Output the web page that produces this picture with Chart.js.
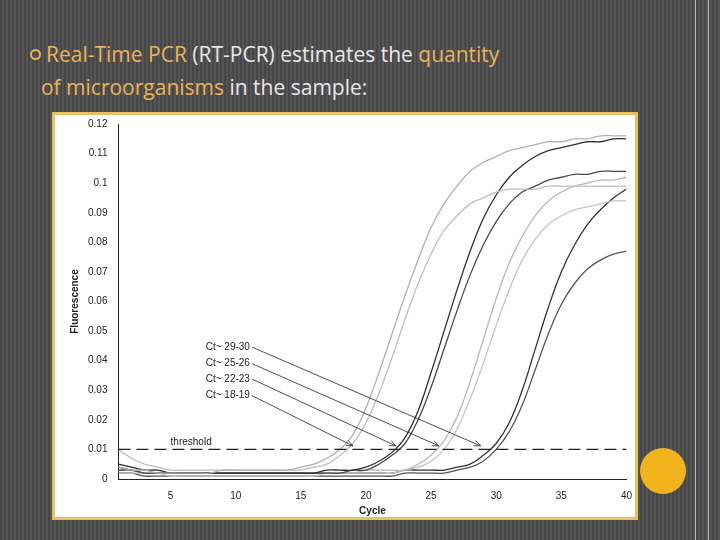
<!DOCTYPE html>
<html>
<head>
<meta charset="utf-8">
<script src="https://cdn.jsdelivr.net/npm/chart.js@4"></script>
<style>
  body { margin:0; width:720px; height:540px; overflow:hidden;
    background: repeating-linear-gradient(90deg, #474747 0px, #474747 2px, #545454 2px, #545454 4px);
    font-family: "Open Sans", sans-serif; position:relative; }
  .title { position:absolute; left:30px; top:38px; font-size:21px; line-height:33px; color:#e8e8e8; }
  .title .o { color:#e9b45a; }
  .bullet { display:inline-block; width:11px; height:11px; border:2px solid #e9b45a; border-radius:50%; box-sizing:border-box; margin-right:5px; vertical-align:2px; }
  .frame { position:absolute; left:52px; top:112px; width:580px; height:402px; background:#fff; border:3px solid #e8c060; }
  .dot { position:absolute; left:640px; top:448px; width:46px; height:46px; border-radius:50%; background:#f2b41c; }
  .vl { position:absolute; top:0; height:540px; width:1px; background:#bbb; }
</style>
</head>
<body>
<div class="vl" style="left:695px"></div>
<div class="vl" style="left:708px"></div>
<div class="title"><span class="bullet"></span><span class="o">Real-Time PCR</span> (RT-PCR) estimates the <span class="o">quantity</span><br>&nbsp;&nbsp;<span class="o">of microorganisms</span> in the sample:</div>
<div class="frame"><canvas id="pcr" width="580" height="402"></canvas></div>
<div class="dot"></div>
<script>
const cycles = [1,2,3,4,5,6,7,8,9,10,11,12,13,14,15,16,17,18,19,20,21,22,23,24,25,26,27,28,29,30,31,32,33,34,35,36,37,38,39,40];
const groupA1 = [0.004,0.003,0.003,0.002,0.002,0.002,0.002,0.002,0.003,0.003,0.003,0.003,0.003,0.003,0.004,0.005,0.007,0.010,0.015,0.024,0.036,0.049,0.062,0.074,0.085,0.093,0.099,0.104,0.107,0.109,0.111,0.112,0.113,0.114,0.114,0.115,0.115,0.116,0.116,0.116];
const groupA2 = [0.010,0.007,0.005,0.004,0.003,0.003,0.003,0.003,0.003,0.003,0.003,0.003,0.003,0.003,0.003,0.004,0.005,0.008,0.012,0.019,0.029,0.041,0.054,0.066,0.076,0.084,0.089,0.093,0.095,0.097,0.098,0.098,0.098,0.099,0.099,0.099,0.099,0.099,0.099,0.099];
const groupB1 = [0.005,0.004,0.003,0.003,0.002,0.002,0.002,0.002,0.002,0.002,0.002,0.002,0.002,0.002,0.002,0.002,0.003,0.003,0.003,0.004,0.006,0.009,0.014,0.023,0.036,0.050,0.064,0.077,0.088,0.096,0.102,0.106,0.109,0.111,0.112,0.113,0.114,0.114,0.115,0.115];
const groupB2 = [0.003,0.003,0.002,0.002,0.002,0.002,0.002,0.002,0.002,0.002,0.002,0.002,0.002,0.002,0.002,0.002,0.002,0.002,0.003,0.003,0.005,0.008,0.012,0.020,0.031,0.044,0.057,0.069,0.079,0.087,0.093,0.097,0.099,0.101,0.102,0.103,0.103,0.104,0.104,0.104];
const groupC1 = [0.003,0.003,0.002,0.002,0.002,0.002,0.002,0.002,0.002,0.002,0.002,0.002,0.002,0.002,0.002,0.002,0.002,0.002,0.002,0.003,0.003,0.003,0.003,0.005,0.008,0.013,0.021,0.033,0.047,0.061,0.073,0.082,0.089,0.094,0.097,0.099,0.100,0.101,0.101,0.102];
const groupC2 = [0.002,0.002,0.002,0.002,0.001,0.001,0.001,0.001,0.001,0.001,0.001,0.001,0.001,0.001,0.001,0.001,0.002,0.002,0.002,0.002,0.002,0.002,0.003,0.004,0.006,0.010,0.017,0.027,0.039,0.052,0.064,0.074,0.081,0.086,0.089,0.091,0.092,0.093,0.094,0.094];
const groupD1 = [0.004,0.003,0.002,0.002,0.002,0.002,0.002,0.002,0.002,0.002,0.002,0.002,0.002,0.002,0.002,0.002,0.002,0.002,0.002,0.002,0.002,0.002,0.003,0.003,0.003,0.003,0.004,0.005,0.008,0.012,0.019,0.030,0.044,0.058,0.070,0.079,0.086,0.091,0.095,0.098];
const groupD2 = [0.002,0.002,0.001,0.001,0.001,0.001,0.001,0.001,0.001,0.001,0.001,0.001,0.001,0.001,0.001,0.001,0.001,0.001,0.001,0.001,0.001,0.001,0.002,0.002,0.002,0.002,0.003,0.004,0.006,0.010,0.016,0.025,0.037,0.049,0.059,0.066,0.071,0.074,0.076,0.077];
const thresholdValue = 0.01;
const ctLabels = ['Ct~ 29-30','Ct~ 25-26','Ct~ 22-23','Ct~ 18-19'];
const ctLabelY = [0.0446,0.0390,0.0338,0.0282];
const ctArrowX = [28.8,25.6,22.3,19.0];

const series = [
  [groupA1,'#b0b0b0'],[groupA2,'#bdbdbd'],
  [groupB1,'#2e2e2e'],[groupB2,'#4a4a4a'],
  [groupC1,'#b8b8b8'],[groupC2,'#c4c4c4'],
  [groupD1,'#333333'],[groupD2,'#555555']
];

const annot = {
  id:'annot',
  afterDatasetsDraw(chart){
    const {ctx, scales:{x,y}, chartArea:a} = chart;
    ctx.save();
    ctx.strokeStyle='#222'; ctx.lineWidth=1.2; ctx.setLineDash([12,6]);
    ctx.beginPath(); ctx.moveTo(a.left, y.getPixelForValue(thresholdValue)); ctx.lineTo(a.right, y.getPixelForValue(thresholdValue)); ctx.stroke();
    ctx.setLineDash([]);
    ctx.fillStyle='#222'; ctx.font='10px "Liberation Sans", Arial';
    ctx.fillText('threshold', x.getPixelForValue(5), y.getPixelForValue(0.0115));
    ctLabels.forEach((t,i)=>{
      const ly = y.getPixelForValue(ctLabelY[i]);
      const lx = x.getPixelForValue(7.7);
      ctx.textBaseline='middle'; ctx.fillText(t, lx, ly);
      const sx = lx + ctx.measureText(t).width + 2;
      const ex = x.getPixelForValue(ctArrowX[i]), ey = y.getPixelForValue(0.0112);
      ctx.lineWidth=0.8; ctx.beginPath(); ctx.moveTo(sx, ly); ctx.lineTo(ex, ey); ctx.stroke();
      const ang = Math.atan2(ey-ly, ex-sx);
      ctx.beginPath();
      ctx.moveTo(ex - 7*Math.cos(ang-0.4), ey - 7*Math.sin(ang-0.4)); ctx.lineTo(ex, ey);
      ctx.lineTo(ex - 7*Math.cos(ang+0.4), ey - 7*Math.sin(ang+0.4)); ctx.stroke();
    });
    ctx.restore();
  }
};

new Chart(document.getElementById('pcr').getContext('2d'), {
  type:'line',
  data:{ datasets: series.map(([v,c])=>({ data: cycles.map((cx,i)=>({x:cx,y:v[i]})), borderColor:c, borderWidth:1.3, pointRadius:0, tension:0.4 })) },
  options:{
    responsive:false, animation:false,
    layout:{padding:{right:2,top:6,left:10}},
    plugins:{legend:{display:false}, tooltip:{enabled:false}},
    scales:{
      x:{ type:'linear', min:1, max:40, grid:{display:false, drawTicks:true}, border:{color:'#222'},
          ticks:{ stepSize:5, color:'#222', font:{size:10, family:'"Liberation Sans", Arial'}, callback:v=> v%5===0 ? v : '' },
          afterBuildTicks: s => { s.ticks = [5,10,15,20,25,30,35,40].map(v=>({value:v})); },
          title:{display:true, text:'Cycle', color:'#222', font:{size:10, weight:'bold', family:'"Liberation Sans", Arial'}, padding:0} },
      y:{ min:0, max:0.12, grid:{display:false}, border:{color:'#222'},
          ticks:{ stepSize:0.01, color:'#222', font:{size:10, family:'"Liberation Sans", Arial'}, callback:v=> Math.round(v*100)/100 },
          title:{display:true, text:'Fluorescence', color:'#222', font:{size:10, weight:'bold', family:'"Liberation Sans", Arial'}} }
    }
  },
  plugins:[annot]
});
</script>
</body>
</html>
